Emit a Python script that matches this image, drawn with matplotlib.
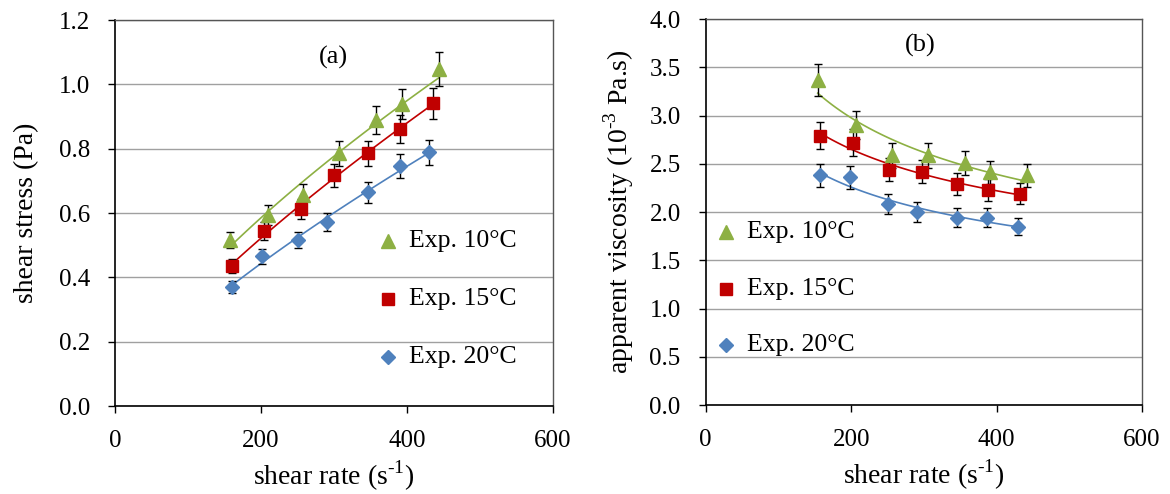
import numpy as np
import matplotlib
matplotlib.use("Agg")
import matplotlib.pyplot as plt

plt.rcParams['font.family'] = ['Liberation Serif', 'DejaVu Serif']
plt.rcParams['mathtext.fontset'] = 'custom'
plt.rcParams['mathtext.rm'] = 'Liberation Serif'

labels = ["Exp. 10°C", "Exp. 15°C", "Exp. 20°C"]
colors = ["#8DB043", "#C00000", "#4F81BD"]
markers = ["^", "s", "D"]
msizes = [10, 8.5, 7.5]
leg_msizes = [9.5, 8, 7]

# Panel (a): shear stress vs shear rate
rate_a_10 = [157, 209, 257, 307, 358, 393, 444]
stress_10 = [0.516, 0.594, 0.656, 0.786, 0.889, 0.939, 1.048]
rate_a_15 = [160, 204, 255, 300, 347, 390, 435]
stress_15 = [0.436, 0.545, 0.612, 0.718, 0.786, 0.861, 0.941]
rate_a_20 = [160, 202, 251, 291, 347, 390, 430]
stress_20 = [0.371, 0.465, 0.516, 0.573, 0.664, 0.747, 0.789]

# Panel (b): apparent viscosity vs shear rate
rate_b_10 = [154, 207, 256, 305, 356, 391, 442]
visc_10 = [3.37, 2.90, 2.59, 2.59, 2.51, 2.41, 2.38]
rate_b_15 = [157, 202, 252, 298, 345, 388, 432]
visc_15 = [2.79, 2.72, 2.44, 2.42, 2.29, 2.23, 2.19]
rate_b_20 = [157, 199, 250, 290, 345, 387, 429]
visc_20 = [2.38, 2.36, 2.08, 2.00, 1.94, 1.94, 1.85]

err_frac = 0.05

fig = plt.figure(figsize=(11.7, 4.94), dpi=100)
axa = fig.add_axes([0.0983, 0.178, 0.3744, 0.7814])
axb = fig.add_axes([0.6032, 0.180, 0.3729, 0.7815])


def draw(ax, xs, ys):
    for x, y, c, m, s in zip(xs, ys, colors, markers, msizes):
        x = np.array(x, float)
        y = np.array(y, float)
        p = np.polyfit(np.log(x), np.log(y), 1)
        xf = np.linspace(x.min(), x.max(), 100)
        ax.plot(xf, np.exp(p[1]) * xf ** p[0], color=c, lw=1.2, zorder=2)
        ax.errorbar(x, y, yerr=err_frac * y, fmt='none', ecolor='black',
                    elinewidth=1.0, capsize=3, capthick=1.0, zorder=3)
        ax.plot(x, y, linestyle='none', marker=m, markersize=s, color=c,
                markeredgecolor=c, zorder=4)


def style(ax, ymax, ystep):
    ax.set_xlim(0, 600)
    ax.set_ylim(0, ymax)
    ax.set_xticks([0, 200, 400, 600])
    ax.set_yticks(np.arange(0, ymax + ystep / 2, ystep))
    ax.yaxis.set_major_formatter(matplotlib.ticker.FormatStrFormatter('%.1f'))
    ax.grid(axis='y', color='#A0A0A0', lw=1.0)
    ax.set_axisbelow(True)
    ax.tick_params(axis='both', direction='out', length=5, width=1, labelsize=18, color='black')
    ax.tick_params(axis='x', pad=12)
    ax.tick_params(axis='y', pad=13)
    for s in ['top', 'right']:
        ax.spines[s].set_color('#555555')
        ax.spines[s].set_linewidth(1.0)
    for s in ['left', 'bottom']:
        ax.spines[s].set_color('black')
        ax.spines[s].set_linewidth(1.2)
    ax.set_xlabel("shear rate (s$^{\\text{-}1}$)", fontsize=20, labelpad=5)


draw(axa, [rate_a_10, rate_a_15, rate_a_20], [stress_10, stress_15, stress_20])
draw(axb, [rate_b_10, rate_b_15, rate_b_20], [visc_10, visc_15, visc_20])
style(axa, 1.2, 0.2)
style(axb, 4.0, 0.5)
axa.set_ylabel("shear stress (Pa)", fontsize=20, labelpad=14)
axb.set_ylabel("apparent viscosity (10$^{\\text{-}3}$ Pa.s)", fontsize=20, labelpad=10)

fig.text(333 / 1170, 1 - 57 / 494, "(a)", fontsize=19, ha='center', va='center')
fig.text(920 / 1170, 1 - 45 / 494, "(b)", fontsize=19, ha='center', va='center')

# legends
leg_a = [(388, 241), (388, 299), (388, 357)]
leg_b = [(726, 232), (726, 289), (726, 345)]
for pos in [leg_a, leg_b]:
    for (px, py), lab, c, m, s in zip(pos, labels, colors, markers, leg_msizes):
        fig.lines.append(matplotlib.lines.Line2D([px / 1170], [1 - py / 494], transform=fig.transFigure,
                                                 marker=m, markersize=s, color=c, linestyle='none'))
        fig.text((px + 21) / 1170, 1 - py / 494, lab, fontsize=18.5, ha='left', va='center')

fig.savefig("out.png", dpi=100)
